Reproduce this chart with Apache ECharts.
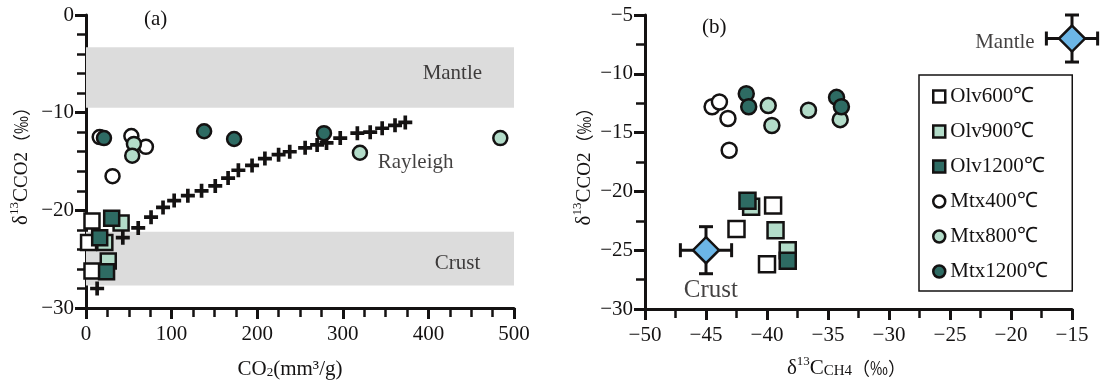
<!DOCTYPE html>
<html>
<head>
<meta charset="utf-8">
<script src="https://cdn.jsdelivr.net/npm/echarts@6/dist/echarts.min.js"></script>
<style>html,body{margin:0;padding:0;background:#fff}#c{width:1101px;height:386px}</style>
</head>
<body>
<div id="c"></div>
<script>
// ---------- data ----------
const leftXTicks = [0, 100, 200, 300, 400, 500];
const leftYTicks = [-30, -20, -10, 0];
const rightXTicks = [-50, -45, -40, -35, -30, -25, -20, -15];
const rightYTicks = [-30, -25, -20, -15, -10, -5];

const mantleBand = [-9.5, -3.3];   // δ13C range, x 0..500
const crustBand = [-27.7, -22.2];
const bandX = [0, 500];

const rayleigh = [[13,-28.0],[43,-22.8],[61,-21.8],[76,-20.7],[90,-19.7],[103,-19.0],[119,-18.5],
  [135,-18.0],[151,-17.5],[166,-16.7],[178,-15.9],[194,-15.4],[209,-14.7],[225,-14.3],[238,-14.0],
  [256,-13.6],[270,-13.3],[281,-13.1],[297,-12.6],[317,-12.1],[332,-12.0],[346,-11.6],[361,-11.3],[373,-11.0]];

const leftOlv600 = [[7,-21.1],[3,-23.3],[7,-26.2]];
const leftOlv900 = [[41,-21.3],[22,-23.3],[26,-25.2]];
const leftOlv1200 = [[30,-20.8],[16,-22.8],[24,-26.3]];
const leftMtx400 = [[16,-12.5],[53,-12.4],[70,-13.5],[31,-16.5]];
const leftMtx800 = [[56,-13.2],[54,-14.4],[320,-14.1],[484,-12.6]];
const leftMtx1200 = [[21,-12.6],[138,-11.9],[173,-12.7],[278,-12.1]];

const rightOlv600 = [[-39.5,-21.2],[-42.5,-23.2],[-40.0,-26.2]];
const rightOlv900 = [[-41.3,-21.3],[-39.3,-23.3],[-38.3,-25.0]];
const rightOlv1200 = [[-41.6,-20.8],[-38.3,-25.9]];
const rightMtx400 = [[-44.5,-12.8],[-43.9,-12.4],[-43.2,-13.8],[-43.1,-16.5]];
const rightMtx800 = [[-39.9,-12.7],[-39.6,-14.4],[-36.6,-13.1],[-34.0,-13.9]];
const rightMtx1200 = [[-41.7,-11.7],[-41.5,-12.8],[-34.3,-12.0],[-33.9,-12.8]];

// end-members: [x, y, xErr, yErr]
const endMembers = [[-15, -7, 2.1, 2.0], [-45, -25, 2.1, 2.0]];

const leftLabels = [['Mantle', 428, -6.0], ['Crust', 434, -25.4], ['Rayleigh', 385, -15.1]];
const rightLabels = [['Mantle', -20.5, -7.3, 21], ['Crust', -44.6, -28.4, 25]];

const groupNames = ['Olv600℃', 'Olv900℃', 'Olv1200℃', 'Mtx400℃', 'Mtx800℃', 'Mtx1200℃'];

// ---------- style ----------
const FONT = 'Liberation Serif';
const CJK = 'Noto Sans CJK SC';
const INK = '#141212';
const WHITE = '#ffffff', LIGHT = '#b3dcc9', DARK = '#2e6b63', BLUE = '#6cb6e6';
const minusFmt = v => String(v).replace('-', '−');

function axisBase(min, max, interval, minorSplit) {
  return {
    type: 'value', min, max, interval,
    splitLine: { show: false },
    axisLine: { show: true, onZero: false, lineStyle: { color: INK, width: 3 } },
    axisTick: { show: true, length: 11, lineStyle: { color: INK, width: 3 } },
    minorTick: { show: true, splitNumber: minorSplit, length: 9, lineStyle: { color: INK, width: 2.5 } },
    axisLabel: { color: INK, fontFamily: FONT, fontSize: 21, formatter: minusFmt },
    nameTextStyle: { color: INK, fontFamily: FONT, fontSize: 21 }
  };
}

const rich = {
  n: { fontFamily: FONT, fontSize: 21, color: INK, lineHeight: 26 },
  p: { fontFamily: CJK, fontSize: 18, color: INK, lineHeight: 26 },
  sup: { fontFamily: FONT, fontSize: 13, color: INK, lineHeight: 26, verticalAlign: 'top', padding: [0, 0, 10, 0] },
  mid: { fontFamily: FONT, fontSize: 19, color: INK, lineHeight: 26, padding: [2, 0, 0, 0] },
  subs: { fontFamily: FONT, fontSize: 15, color: INK, lineHeight: 26, padding: [6, 0, 0, 0] },
  sub2: { fontFamily: FONT, fontSize: 13, color: INK, lineHeight: 26, padding: [8, 0, 0, 0] }
};

const xL = axisBase(leftXTicks[0], leftXTicks[leftXTicks.length-1], 100, 4);
Object.assign(xL, { gridIndex: 0, name: '{n|CO}{sub2|2}{n|(mm³/g)}', nameLocation: 'middle', nameGap: 48,
  nameTextStyle: { rich, padding: [0, 20, 0, 0] } });
xL.axisLabel.margin = 16;
const yL = axisBase(leftYTicks[0], leftYTicks[leftYTicks.length-1], 10, 5);
Object.assign(yL, { gridIndex: 0, name: '{n|δ}{sup|13}{n|C}{mid|CO2}{p|（‰）}', nameLocation: 'middle', nameGap: 52,
  nameTextStyle: { rich } });
yL.axisLabel.margin = 12;

const xR = axisBase(rightXTicks[0], rightXTicks[rightXTicks.length-1], 5, 2);
Object.assign(xR, { gridIndex: 1, name: '{n|δ}{sup|13}{n|C}{subs|CH4}{p|（‰）}', nameLocation: 'middle', nameGap: 46,
  nameTextStyle: { rich, padding: [0, 24, 0, 0] } });
xR.axisLabel.margin = 16;
const yR = axisBase(rightYTicks[0], rightYTicks[rightYTicks.length-1], 5, 2);
Object.assign(yR, { gridIndex: 1, name: '{n|δ}{sup|13}{n|C}{mid|CO2}{p|（‰）}', nameLocation: 'middle', nameGap: 48,
  nameTextStyle: { rich } });
yR.axisLabel.margin = 12;

function markerSeries(name, data, axisIdx, symbol, size, color, z) {
  return {
    type: 'scatter', name, data, xAxisIndex: axisIdx, yAxisIndex: axisIdx,
    symbol, symbolSize: size, clip: false, z,
    itemStyle: { color, borderColor: INK, borderWidth: 2.5, opacity: 1 },
    emphasis: { disabled: true }
  };
}

function labelSeries(items, axisIdx, defaultSize) {
  return {
    type: 'scatter', xAxisIndex: axisIdx, yAxisIndex: axisIdx, symbolSize: 0, silent: true, z: 6,
    data: items.map(it => ({ value: [it[1], it[2]], label: { formatter: it[0], fontSize: it[3] || defaultSize } })),
    label: { show: true, position: 'inside', color: INK, fontFamily: FONT }
  };
}

const series = [
  {
    type: 'scatter', xAxisIndex: 0, yAxisIndex: 0, data: [], silent: true, z: 1,
    markArea: {
      silent: true, itemStyle: { color: '#dcdcdc', opacity: 1 },
      data: [
        [{ coord: [bandX[0], mantleBand[1]] }, { coord: [bandX[1], mantleBand[0]] }],
        [{ coord: [bandX[0], crustBand[1]] }, { coord: [bandX[1], crustBand[0]] }]
      ]
    }
  },
  {
    type: 'scatter', xAxisIndex: 0, yAxisIndex: 0, data: rayleigh, z: 3, silent: true,
    symbol: 'path://M4.8,0H8.2V4.8H13V8.2H8.2V13H4.8V8.2H0V4.8H4.8Z', symbolSize: 14,
    itemStyle: { color: INK, opacity: 1 }
  },
  markerSeries(groupNames[0], leftOlv600, 0, 'rect', 15, WHITE, 4),
  markerSeries(groupNames[1], leftOlv900, 0, 'rect', 15, LIGHT, 4),
  markerSeries(groupNames[2], leftOlv1200, 0, 'rect', 15, DARK, 4),
  markerSeries(groupNames[3], leftMtx400, 0, 'circle', 14, WHITE, 4),
  markerSeries(groupNames[4], leftMtx800, 0, 'circle', 14, LIGHT, 4),
  markerSeries(groupNames[5], leftMtx1200, 0, 'circle', 14, DARK, 4),
  markerSeries(groupNames[0], rightOlv600, 1, 'rect', 16, WHITE, 4),
  markerSeries(groupNames[1], rightOlv900, 1, 'rect', 16, LIGHT, 4),
  markerSeries(groupNames[2], rightOlv1200, 1, 'rect', 16, DARK, 4),
  markerSeries(groupNames[3], rightMtx400, 1, 'circle', 15, WHITE, 4),
  markerSeries(groupNames[4], rightMtx800, 1, 'circle', 15, LIGHT, 4),
  markerSeries(groupNames[5], rightMtx1200, 1, 'circle', 15, DARK, 4),
  {
    type: 'custom', xAxisIndex: 1, yAxisIndex: 1, data: endMembers, clip: false, z: 3, silent: true,
    renderItem(params, api) {
      const x = api.value(0), y = api.value(1), xe = api.value(2), ye = api.value(3);
      const l = api.coord([x - xe, y]), r = api.coord([x + xe, y]);
      const t = api.coord([x, y + ye]), b = api.coord([x, y - ye]);
      const cap = 7;
      const st = { stroke: INK, lineWidth: 3 };
      const line = (x1, y1, x2, y2) => ({ type: 'line', shape: { x1, y1, x2, y2 }, style: st });
      return { type: 'group', children: [
        line(l[0], l[1], r[0], r[1]), line(t[0], t[1], b[0], b[1]),
        line(l[0], l[1] - cap, l[0], l[1] + cap), line(r[0], r[1] - cap, r[0], r[1] + cap),
        line(t[0] - cap, t[1], t[0] + cap, t[1]), line(b[0] - cap, b[1], b[0] + cap, b[1])
      ] };
    }
  },
  {
    type: 'scatter', xAxisIndex: 1, yAxisIndex: 1, data: endMembers.map(e => [e[0], e[1]]), clip: false, z: 5, silent: true,
    symbol: 'diamond', symbolSize: [26, 26], itemStyle: { color: BLUE, borderColor: INK, borderWidth: 2.5, opacity: 1 }
  },
  labelSeries(leftLabels, 0, 21),
  labelSeries(rightLabels, 1, 21)
];

const chart = echarts.init(document.getElementById('c'), null, { renderer: 'canvas' });
chart.setOption({
  animation: false,
  backgroundColor: '#ffffff',
  textStyle: { fontFamily: FONT },
  grid: [
    { left: 86, right: 1101 - 514, top: 15, bottom: 386 - 308 },
    { left: 645, right: 1101 - 1072, top: 15, bottom: 386 - 309 }
  ],
  title: [
    { text: '(a)', left: 139, top: 4, textStyle: { fontFamily: FONT, fontSize: 21, fontWeight: 'normal', color: INK } },
    { text: '(b)', left: 697, top: 12, textStyle: { fontFamily: FONT, fontSize: 21, fontWeight: 'normal', color: INK } }
  ],
  legend: {
    orient: 'vertical', left: 919, top: 75, itemGap: 14, itemWidth: 12, itemHeight: 12, itemTextGap: 10,
    padding: [11, 24, 9, 13], borderColor: INK, borderWidth: 1.5, selectedMode: false,
    textStyle: { fontFamily: FONT, fontSize: 21, color: INK, lineHeight: 21 },
    data: [
      { name: groupNames[0], icon: 'rect', itemStyle: { color: WHITE, borderColor: INK, borderWidth: 2.5 } },
      { name: groupNames[1], icon: 'rect', itemStyle: { color: LIGHT, borderColor: INK, borderWidth: 2.5 } },
      { name: groupNames[2], icon: 'rect', itemStyle: { color: DARK, borderColor: INK, borderWidth: 2.5 } },
      { name: groupNames[3], icon: 'circle', itemStyle: { color: WHITE, borderColor: INK, borderWidth: 2.5 } },
      { name: groupNames[4], icon: 'circle', itemStyle: { color: LIGHT, borderColor: INK, borderWidth: 2.5 } },
      { name: groupNames[5], icon: 'circle', itemStyle: { color: DARK, borderColor: INK, borderWidth: 2.5 } }
    ]
  },
  xAxis: [xL, xR],
  yAxis: [yL, yR],
  series
});
</script>
</body>
</html>
